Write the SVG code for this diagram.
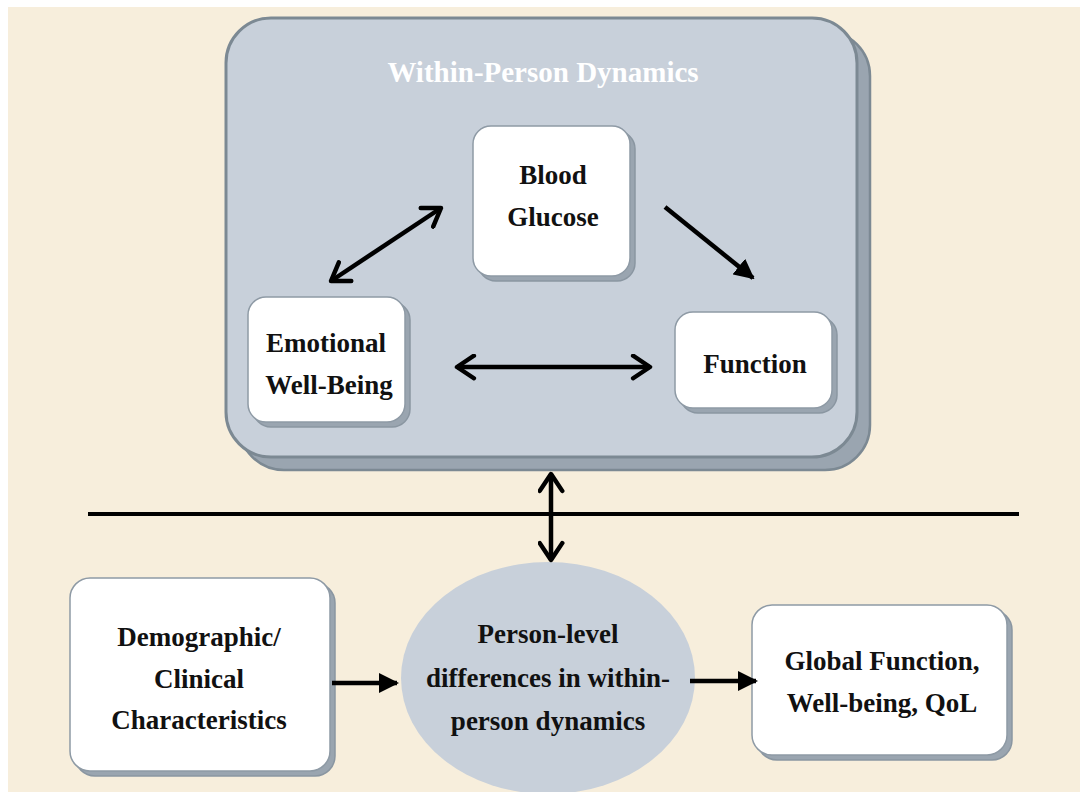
<svg xmlns="http://www.w3.org/2000/svg" width="1080" height="792" viewBox="0 0 1080 792">
<defs>
<style>
.node{fill:#ffffff;stroke:#8e9aa5;stroke-width:1.5}
.shadow{fill:#9aa5b0;stroke:#8a96a1;stroke-width:1.5}
.t{font-family:"Liberation Serif","Times New Roman",serif;font-weight:bold;font-size:27px;fill:#111;text-anchor:middle}
.ln{stroke:#000;stroke-width:4.5;fill:none}
</style>
<marker id="chev" viewBox="0 0 12 12" refX="10" refY="6" markerWidth="6" markerHeight="6" orient="auto-start-reverse" markerUnits="strokeWidth">
<path d="M2.5,1 L10,6 L2.5,11" fill="none" stroke="#000" stroke-width="2" stroke-linecap="round" stroke-linejoin="round"/>
</marker>
<marker id="tri" viewBox="0 0 10 10" refX="9" refY="5" markerWidth="4.5" markerHeight="4.5" orient="auto" markerUnits="strokeWidth">
<path d="M0,0 L10,5 L0,10 Z" fill="#000"/>
</marker>
</defs>
<rect x="0" y="0" width="1080" height="792" fill="#ffffff"/>
<rect x="8" y="7" width="1072" height="785" fill="#f7eedc"/>

<g id="within-person">
<rect x="239" y="31" width="631" height="439" rx="45" fill="#9aa5b0" stroke="#7c8993" stroke-width="2.5"/>
<rect x="226" y="18" width="631" height="439" rx="45" fill="#c8d0da" stroke="#7c8993" stroke-width="3"/>
<text x="543" y="82" class="t" style="font-size:29px;fill:#ffffff">Within-Person Dynamics</text>
</g>

<g id="blood-glucose">
<rect x="478" y="131" width="157" height="150" rx="18" class="shadow"/>
<rect x="473" y="126" width="157" height="150" rx="18" class="node"/>
<text x="553" y="184" class="t">Blood</text>
<text x="553" y="226" class="t">Glucose</text>
</g>

<g id="emotional">
<rect x="253" y="302" width="157" height="125" rx="18" class="shadow"/>
<rect x="248" y="297" width="157" height="125" rx="18" class="node"/>
<text x="326" y="352" class="t">Emotional</text>
<text x="329" y="394" class="t">Well-Being</text>
</g>

<g id="function">
<rect x="680" y="317" width="157" height="96" rx="18" class="shadow"/>
<rect x="675" y="312" width="157" height="96" rx="18" class="node"/>
<text x="755" y="373" class="t">Function</text>
</g>

<g id="demographic">
<rect x="75" y="583" width="260" height="193" rx="20" class="shadow"/>
<rect x="70" y="578" width="260" height="193" rx="20" class="node"/>
<text x="199" y="646" class="t">Demographic/</text>
<text x="199" y="688" class="t">Clinical</text>
<text x="199" y="729" class="t">Characteristics</text>
</g>

<g id="person-level">
<ellipse cx="548" cy="678" rx="147" ry="116" fill="#c8d0da"/>
<text x="548" y="643" class="t">Person-level</text>
<text x="548" y="687" class="t">differences in within-</text>
<text x="548" y="730" class="t">person dynamics</text>
</g>

<g id="global">
<rect x="757" y="610" width="255" height="150" rx="20" class="shadow"/>
<rect x="752" y="605" width="255" height="150" rx="20" class="node"/>
<text x="882" y="670" class="t">Global Function,</text>
<text x="882" y="712" class="t">Well-being, QoL</text>
</g>

<g id="connectors">
<line x1="88" y1="514" x2="1019" y2="514" stroke="#000" stroke-width="4"/>
<line x1="331" y1="281" x2="441" y2="208" class="ln" marker-start="url(#chev)" marker-end="url(#chev)"/>
<line x1="457" y1="367" x2="650" y2="367" class="ln" marker-start="url(#chev)" marker-end="url(#chev)"/>
<line x1="665" y1="207" x2="753" y2="278" class="ln" marker-end="url(#tri)"/>
<line x1="551" y1="474" x2="551" y2="560" class="ln" marker-start="url(#chev)" marker-end="url(#chev)"/>
<line x1="332" y1="683" x2="397" y2="683" class="ln" marker-end="url(#tri)"/>
<line x1="690" y1="681" x2="756" y2="681" class="ln" marker-end="url(#tri)"/>
</g>
</svg>
